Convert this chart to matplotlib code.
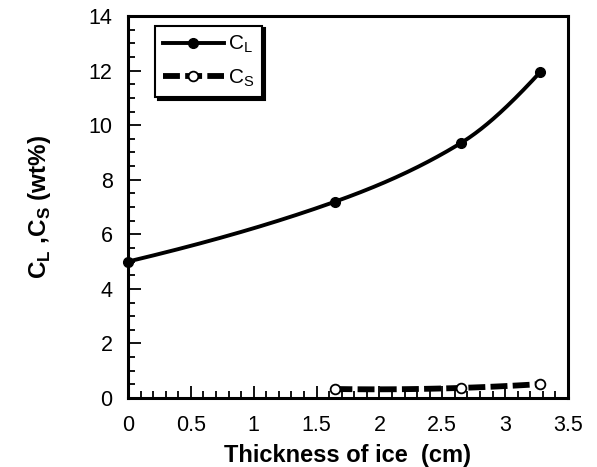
import numpy as np
import matplotlib
matplotlib.use("Agg")
import matplotlib.pyplot as plt
from matplotlib.ticker import MultipleLocator
from matplotlib.lines import Line2D

plt.rcParams['font.family'] = ['Liberation Sans', 'DejaVu Sans']

# Data
thick_L = [0.0, 1.65, 2.65, 3.28]
conc_L = [5.0, 7.2, 9.35, 11.95]
thick_S = [1.65, 2.65, 3.28]
conc_S = [0.33, 0.37, 0.51]

# end slopes of the drawn smooth C_L curve
slope_start, slope_end = 1.1, 5.0

x_ticks = [0, 0.5, 1, 1.5, 2, 2.5, 3, 3.5]
x_labels = ['0', '0.5', '1', '1.5', '2', '2.5', '3', '3.5']
y_ticks = [0, 2, 4, 6, 8, 10, 12, 14]


def pchip_curve(x, y, m0, mn, n=80):
    """Shape-preserving cubic Hermite curve through the points."""
    x = np.asarray(x, float)
    y = np.asarray(y, float)
    h = np.diff(x)
    d = np.diff(y) / h
    m = np.empty_like(x)
    m[0], m[-1] = m0, mn
    for i in range(1, len(x) - 1):
        m[i] = 2.0 / (1.0 / d[i - 1] + 1.0 / d[i])
    xs, ys = [], []
    for i in range(len(x) - 1):
        t = np.linspace(0, 1, n)
        h00 = 2 * t**3 - 3 * t**2 + 1
        h10 = t**3 - 2 * t**2 + t
        h01 = -2 * t**3 + 3 * t**2
        h11 = t**3 - t**2
        xs.append(x[i] + t * h[i])
        ys.append(h00 * y[i] + h10 * h[i] * m[i] + h01 * y[i + 1] + h11 * h[i] * m[i + 1])
    return np.concatenate(xs), np.concatenate(ys)


fig = plt.figure(figsize=(5.97, 4.67), dpi=100)
ax = fig.add_axes([128/597, 1-398/467, 440/597, 382/467])

xs, ys = pchip_curve(thick_L, conc_L, slope_start, slope_end)
ax.plot(xs, ys, color='black', lw=2.8, solid_capstyle='round')
ax.plot(thick_L, conc_L, 'o', color='black', ms=7, clip_on=False, zorder=5)

cS = np.polyfit(thick_S, conc_S, 2)
xs2 = np.linspace(min(thick_S), max(thick_S), 100)
ax.plot(xs2, np.polyval(cS, xs2), color='black', lw=4.2, dashes=(2.9, 0.9))
ax.plot(thick_S, conc_S, 'o', mfc='white', mec='black', mew=1.3, ms=7, zorder=5)

ax.set_xlim(0, 3.5)
ax.set_ylim(0, 14)
ax.set_xticks(x_ticks)
ax.set_xticklabels(x_labels)
ax.set_yticks(y_ticks)
ax.xaxis.set_minor_locator(MultipleLocator(0.1))
ax.yaxis.set_minor_locator(MultipleLocator(0.5))
ax.tick_params(which='both', direction='in', width=1.3, labelsize=15.5, top=False, right=False)
ax.tick_params(which='major', length=9)
ax.tick_params(which='minor', length=5)
ax.tick_params(axis='x', which='major', pad=12)
ax.tick_params(axis='y', which='major', pad=11)
for s in ax.spines.values():
    s.set_linewidth(2.2)

ax.set_xlabel('Thickness of ice  (cm)', fontsize=17, fontweight='bold', labelpad=6)
ax.set_ylabel(r'C$_\mathregular{L}$ ,C$_\mathregular{S}$ (wt%)', fontsize=17.5,
              fontweight='bold', labelpad=26)

h1 = Line2D([], [], color='black', lw=2.8, marker='o', ms=7)
h2 = Line2D([], [], color='black', lw=4.2, dashes=(2.9, 0.9), marker='o', mfc='white',
            mec='black', mew=1.3, ms=7)
leg = ax.legend([h1, h2], [r'C$_\mathregular{L}$', r'C$_\mathregular{S}$'],
                loc='upper left', bbox_to_anchor=(0.061, 0.975), borderaxespad=0,
                fontsize=15, frameon=True, fancybox=False,
                shadow={'color': 'black', 'alpha': 1}, handlelength=2.9,
                handletextpad=0.2, borderpad=0.4, labelspacing=0.55)
leg.get_frame().set_edgecolor('black')
leg.get_frame().set_linewidth(1.5)
leg.get_frame().set_alpha(1)

fig.savefig('out.png', dpi=100)
